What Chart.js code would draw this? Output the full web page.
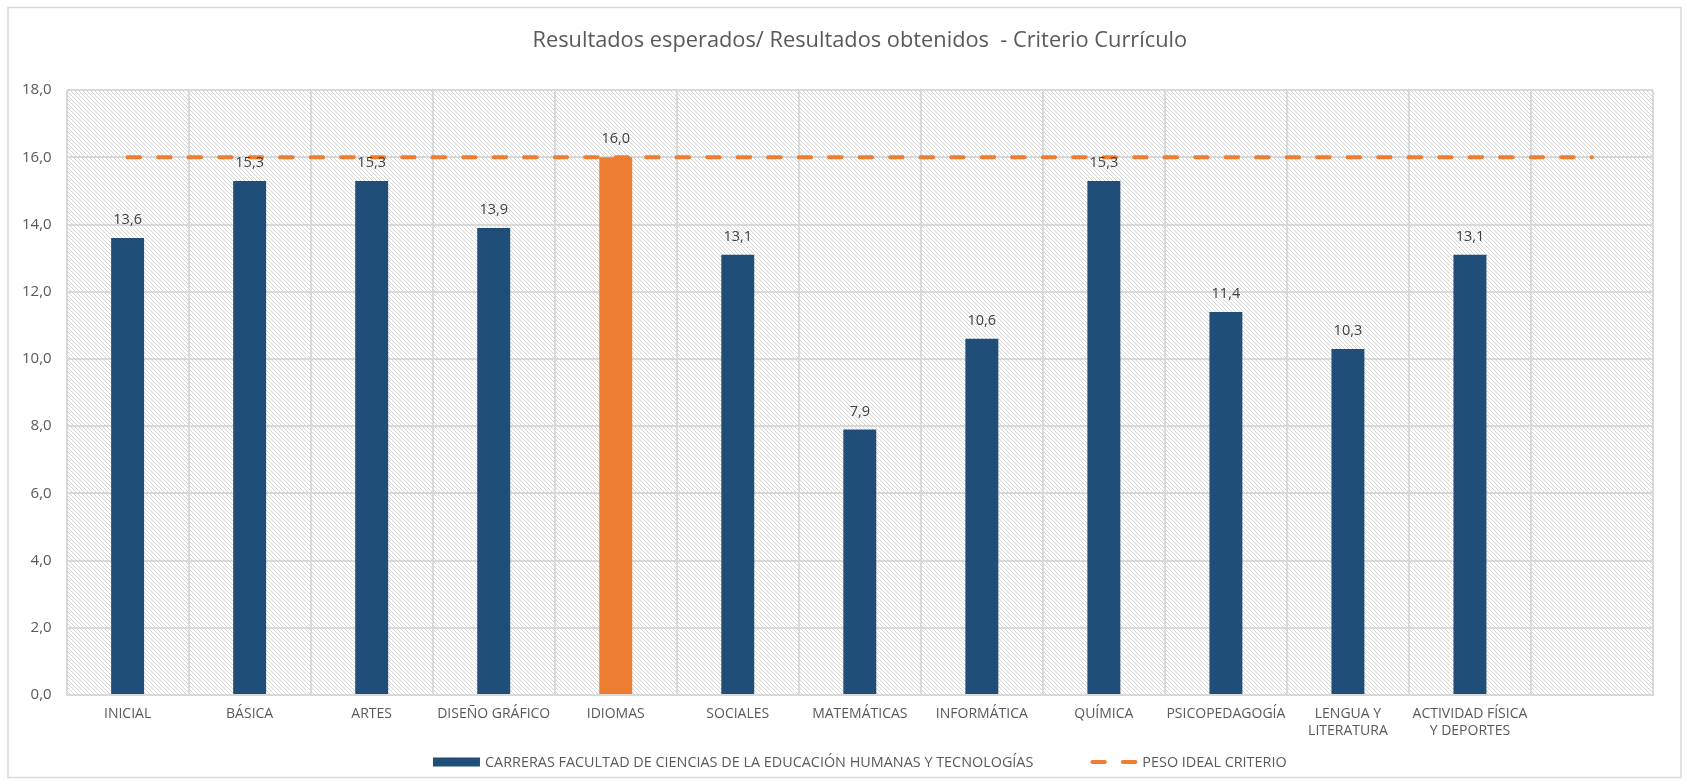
<!DOCTYPE html>
<html>
<head>
<meta charset="utf-8">
<script src="https://cdn.jsdelivr.net/npm/chart.js@4.4.1/dist/chart.umd.min.js"></script>
<style>
  html, body { margin: 0; padding: 0; background: #fff; }
</style>
</head>
<body>
<canvas id="chart" width="1688" height="783"></canvas>
<script>
// data
const titleText = 'Resultados esperados/ Resultados obtenidos  - Criterio Currículo';
const categories = ['INICIAL', 'BÁSICA', 'ARTES', 'DISEÑO GRÁFICO', 'IDIOMAS', 'SOCIALES', 'MATEMÁTICAS',
  'INFORMÁTICA', 'QUÍMICA', 'PSICOPEDAGOGÍA', ['LENGUA Y', 'LITERATURA'], ['ACTIVIDAD FÍSICA', 'Y DEPORTES'], ''];
const resultados = [13.6, 15.3, 15.3, 13.9, 16.0, 13.1, 7.9, 10.6, 15.3, 11.4, 10.3, 13.1, null];
const pesoIdeal = [16, 16, 16, 16, 16, 16, 16, 16, 16, 16, 16, 16, 16];
const seriesNames = ['CARRERAS FACULTAD DE CIENCIAS DE LA EDUCACIÓN HUMANAS Y TECNOLOGÍAS', 'PESO IDEAL CRITERIO'];
const yMin = 0, yMax = 18, yStep = 2;
const highlighted = 'IDIOMAS';

const NAVY = '#1F4E79';
const ORANGE = '#ED7D31';
const GRID = '#D9D9D9';
const TEXT = '#595959';
const FONT = '"Open Sans", sans-serif';
const DASH = [12.5, 18];

const fmt = v => v.toFixed(1).replace('.', ',');

// light downward diagonal hatch, like the excel plot area fill
function makeHatch(ctx) {
  const c = document.createElement('canvas');
  c.width = 4; c.height = 4;
  const g = c.getContext('2d');
  g.fillStyle = '#fff';
  g.fillRect(0, 0, 4, 4);
  g.fillStyle = '#D4D4D4';
  for (let i = 0; i < 4; i++) g.fillRect(i, i, 1, 1);
  return ctx.createPattern(c, 'repeat');
}

const decor = {
  id: 'decor',
  beforeDraw(chart) {
    const { ctx, chartArea: a } = chart;
    ctx.save();
    ctx.strokeStyle = GRID;
    ctx.lineWidth = 1.5;
    ctx.strokeRect(8, 7.5, 1673, 770);
    ctx.fillStyle = makeHatch(ctx);
    ctx.fillRect(a.left, a.top, a.right - a.left, a.bottom - a.top);
    ctx.restore();
  },
  afterDatasetsDraw(chart) {
    const { ctx } = chart;
    const meta = chart.getDatasetMeta(0);
    ctx.save();
    ctx.font = '14.5px ' + FONT;
    ctx.fillStyle = '#404040';
    ctx.textAlign = 'center';
    ctx.textBaseline = 'middle';
    meta.data.forEach((bar, i) => {
      const v = resultados[i];
      if (v == null) return;
      ctx.fillText(fmt(v), bar.x, bar.y - 18);
    });
    ctx.restore();
  },
  afterDraw(chart) {
    // legend drawn by hand so the spacing matches the excel one
    const { ctx, chartArea: a } = chart;
    const y = 762;
    const markW = 47, gap = 5, between = 57;
    ctx.save();
    ctx.font = '14.4px ' + FONT;
    const w0 = ctx.measureText(seriesNames[0]).width;
    const w1 = ctx.measureText(seriesNames[1]).width;
    const total = markW + gap + w0 + between + markW + gap + w1;
    let x = (a.left + a.right) / 2 - total / 2;
    ctx.fillStyle = NAVY;
    ctx.fillRect(x, y - 4.5, markW, 9);
    x += markW + gap;
    ctx.fillStyle = TEXT;
    ctx.textBaseline = 'middle';
    ctx.fillText(seriesNames[0], x, y + 1);
    x += w0 + between;
    ctx.strokeStyle = ORANGE;
    ctx.lineWidth = 4;
    ctx.lineCap = 'round';
    ctx.setLineDash(DASH);
    ctx.beginPath();
    ctx.moveTo(x + 2, y);
    ctx.lineTo(x + markW, y);
    ctx.stroke();
    ctx.setLineDash([]);
    x += markW + gap;
    ctx.fillText(seriesNames[1], x, y + 1);
    ctx.restore();
  }
};

const ctx = document.getElementById('chart').getContext('2d');
new Chart(ctx, {
  type: 'bar',
  data: {
    labels: categories,
    datasets: [{
      type: 'bar',
      label: seriesNames[0],
      data: resultados,
      backgroundColor: categories.map(c => c === highlighted ? ORANGE : NAVY),
      barPercentage: 0.27,
      categoryPercentage: 1,
      order: 1
    }, {
      type: 'line',
      label: seriesNames[1],
      data: pesoIdeal,
      borderColor: ORANGE,
      borderWidth: 4,
      borderDash: DASH,
      borderCapStyle: 'round',
      pointRadius: 0,
      fill: false,
      order: 0
    }]
  },
  options: {
    responsive: false,
    animation: false,
    layout: { padding: { left: 10, right: 35, top: 0, bottom: 38 } },
    plugins: {
      legend: { display: false },
      tooltip: { enabled: false },
      title: {
        display: true,
        fullSize: false,
        text: titleText,
        color: TEXT,
        font: { family: FONT, size: 21.8, weight: 'normal' },
        padding: { top: 28, bottom: 36 }
      }
    },
    scales: {
      x: {
        offset: true,
        grid: { color: GRID, lineWidth: 2, offset: true, drawTicks: false },
        border: { color: GRID, width: 2 },
        ticks: {
          color: TEXT, font: { family: FONT, size: 14 }, padding: 11,
          autoSkip: false, maxRotation: 0
        },
        afterFit(scale) { scale.height = 50; }
      },
      y: {
        min: yMin,
        max: yMax,
        grid: { color: GRID, lineWidth: 2, drawTicks: false },
        border: { display: false },
        ticks: {
          stepSize: yStep, color: TEXT, font: { family: FONT, size: 15 }, padding: 15,
          callback: v => fmt(v)
        },
        afterFit(scale) { scale.width = 56.6; }
      }
    }
  },
  plugins: [decor]
});
</script>
</body>
</html>
